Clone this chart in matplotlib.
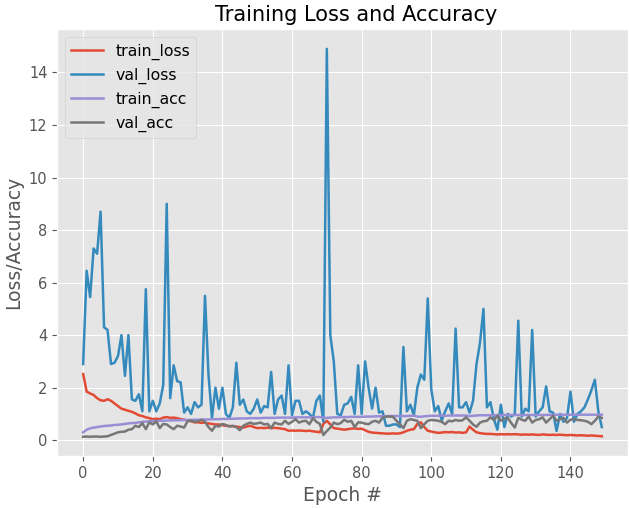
import numpy as np
import matplotlib
matplotlib.use("Agg")
import matplotlib.pyplot as plt

# training history (150 epochs)
train_loss = [2.52, 1.85, 1.78, 1.72, 1.6, 1.52, 1.5, 1.56, 1.5, 1.4,
              1.3, 1.2, 1.16, 1.12, 1.08, 1.02, 0.95, 0.92, 0.87, 0.84,
              0.8, 0.82, 0.8, 0.86, 0.88, 0.85, 0.86, 0.84, 0.8, 0.78,
              0.75, 0.72, 0.68, 0.68, 0.66, 0.67, 0.64, 0.62, 0.6, 0.6,
              0.57, 0.55, 0.54, 0.53, 0.52, 0.5, 0.48, 0.52, 0.55, 0.5,
              0.46, 0.47, 0.46, 0.48, 0.46, 0.47, 0.46, 0.44, 0.42, 0.36,
              0.37, 0.36, 0.37, 0.36, 0.35, 0.36, 0.34, 0.32, 0.3, 0.62,
              0.74, 0.6, 0.46, 0.44, 0.42, 0.4, 0.42, 0.44, 0.45, 0.43,
              0.44, 0.38, 0.32, 0.29, 0.28, 0.27, 0.26, 0.25, 0.25, 0.26,
              0.25, 0.26, 0.3, 0.36, 0.4, 0.42, 0.62, 0.68, 0.5, 0.36,
              0.33, 0.3, 0.28, 0.29, 0.31, 0.3, 0.31, 0.29, 0.3, 0.28,
              0.3, 0.52, 0.4, 0.3, 0.27, 0.25, 0.24, 0.24, 0.23, 0.22,
              0.23, 0.22, 0.23, 0.22, 0.23, 0.22, 0.21, 0.22, 0.21, 0.22,
              0.21, 0.2, 0.22, 0.21, 0.2, 0.21, 0.2, 0.21, 0.2, 0.19,
              0.2, 0.19, 0.18, 0.19, 0.18, 0.17, 0.18, 0.17, 0.16, 0.15]

val_loss = [2.9, 6.45, 5.45, 7.3, 7.1, 8.7, 4.3, 4.2, 2.9, 2.95,
            3.2, 4.0, 2.45, 4.0, 1.55, 1.5, 1.75, 1.1, 5.75, 1.1,
            1.5, 1.1, 1.4, 2.1, 9.0, 1.6, 2.85, 2.25, 2.2, 1.05,
            1.25, 1.0, 1.45, 1.25, 1.35, 5.5, 2.5, 0.85, 2.0, 1.2,
            2.0, 1.0, 0.85, 1.25, 2.95, 1.35, 1.55, 1.1, 1.0, 1.2,
            1.55, 1.05, 1.3, 1.25, 2.6, 1.0, 1.55, 1.7, 1.0, 2.85,
            0.95, 1.5, 1.5, 1.0, 1.1, 1.0, 0.85, 1.5, 1.7, 0.7,
            14.9, 4.0, 3.0, 1.0, 0.95, 1.35, 1.4, 1.65, 1.0, 2.85,
            1.0, 3.0, 2.0, 1.2, 2.0, 1.05, 1.1, 0.55, 0.55, 0.6,
            0.6, 0.5, 3.55, 1.1, 1.35, 0.95, 2.0, 2.5, 2.3, 5.4,
            1.95, 1.1, 1.3, 0.75, 1.1, 1.4, 1.0, 4.25, 1.25, 1.25,
            1.45, 1.05, 1.5, 2.9, 3.7, 5.0, 1.25, 1.45, 0.8, 0.4,
            1.35, 0.5, 1.0, 0.9, 1.0, 4.55, 0.9, 1.2, 1.1, 4.2,
            0.9, 1.1, 1.25, 2.05, 1.1, 1.05, 0.35, 1.0, 0.7, 0.85,
            1.85, 0.7, 1.0, 1.1, 1.25, 1.55, 1.9, 2.3, 1.1, 0.5]

train_acc = [0.3, 0.4, 0.45, 0.48, 0.5, 0.52, 0.54, 0.55, 0.56, 0.58,
             0.59, 0.6, 0.62, 0.64, 0.65, 0.66, 0.68, 0.7, 0.71, 0.72,
             0.73, 0.73, 0.74, 0.74, 0.75, 0.75, 0.76, 0.76, 0.76, 0.77,
             0.77, 0.77, 0.78, 0.78, 0.78, 0.79, 0.79, 0.8, 0.8, 0.8,
             0.81, 0.81, 0.81, 0.82, 0.82, 0.83, 0.83, 0.83, 0.84, 0.84,
             0.84, 0.84, 0.85, 0.85, 0.85, 0.85, 0.86, 0.86, 0.86, 0.86,
             0.86, 0.87, 0.87, 0.87, 0.87, 0.87, 0.88, 0.88, 0.88, 0.86,
             0.85, 0.86, 0.87, 0.87, 0.88, 0.88, 0.88, 0.89, 0.89, 0.89,
             0.89, 0.9, 0.9, 0.9, 0.91, 0.91, 0.91, 0.91, 0.92, 0.92,
             0.92, 0.92, 0.92, 0.92, 0.93, 0.93, 0.9, 0.89, 0.91, 0.92,
             0.93, 0.93, 0.93, 0.94, 0.93, 0.94, 0.94, 0.94, 0.94, 0.94,
             0.94, 0.92, 0.93, 0.94, 0.95, 0.95, 0.95, 0.95, 0.95, 0.96,
             0.95, 0.96, 0.96, 0.96, 0.96, 0.96, 0.96, 0.96, 0.96, 0.96,
             0.96, 0.96, 0.96, 0.96, 0.97, 0.96, 0.97, 0.97, 0.97, 0.97,
             0.97, 0.97, 0.97, 0.97, 0.97, 0.97, 0.97, 0.97, 0.97, 0.97]

val_acc = [0.13, 0.14, 0.13, 0.14, 0.14, 0.13, 0.14, 0.15, 0.2, 0.25,
           0.3, 0.32, 0.33, 0.4, 0.42, 0.55, 0.5, 0.65, 0.42, 0.68,
           0.6, 0.72, 0.46, 0.62, 0.6, 0.5, 0.42, 0.55, 0.52, 0.48,
           0.72, 0.75, 0.7, 0.72, 0.78, 0.7, 0.5, 0.36, 0.55, 0.52,
           0.62, 0.58, 0.52, 0.55, 0.5, 0.38, 0.55, 0.62, 0.67, 0.62,
           0.64, 0.67, 0.6, 0.62, 0.46, 0.67, 0.62, 0.6, 0.74, 0.62,
           0.7, 0.8, 0.67, 0.72, 0.74, 0.61, 0.84, 0.7, 0.62, 0.2,
           0.35, 0.48, 0.67, 0.61, 0.65, 0.78, 0.7, 0.74, 0.5, 0.68,
           0.67, 0.63, 0.61, 0.7, 0.74, 0.67, 0.86, 0.9, 0.9, 0.89,
           0.74, 0.61, 0.46, 0.74, 0.8, 0.77, 0.74, 0.46, 0.61, 0.74,
           0.77, 0.76, 0.74, 0.7, 0.61, 0.74, 0.72, 0.77, 0.74, 0.76,
           0.87, 0.74, 0.6, 0.51, 0.67, 0.72, 0.74, 0.87, 0.77, 0.93,
           0.74, 0.82, 0.85, 0.65, 0.48, 0.85, 0.78, 0.74, 0.9, 0.67,
           0.77, 0.8, 0.87, 0.67, 0.8, 0.93, 0.74, 0.8, 0.85, 0.67,
           0.78, 0.8, 0.77, 0.76, 0.74, 0.7, 0.61, 0.74, 0.9, 0.85]

epochs = np.arange(0, len(val_loss))

plt.style.use("ggplot")
plt.figure(figsize=(6.29, 5.08), dpi=100)
plt.subplots_adjust(left=0.091, right=0.998, bottom=0.102, top=0.942)
plt.plot(epochs, train_loss, label="train_loss", linewidth=1.8)
plt.plot(epochs, val_loss, label="val_loss", linewidth=1.8)
plt.plot(epochs, train_acc, label="train_acc", linewidth=1.8)
plt.plot(epochs, val_acc, label="val_acc", linewidth=1.8)
# title sits a bit right of the axes centre in the original
plt.title("Training Loss and Accuracy", fontsize=15, x=0.524)
plt.xlabel("Epoch #", fontsize=13.5)
plt.ylabel("Loss/Accuracy", fontsize=13.5)
plt.xticks(fontsize=10.5)
plt.yticks(fontsize=10.5)
plt.legend(loc="upper left", fontsize=11.3)
plt.savefig("out.png")
